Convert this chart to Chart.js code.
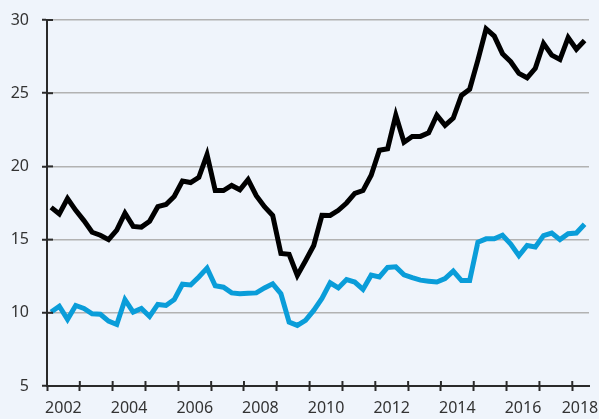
<!DOCTYPE html>
<html><head><meta charset="utf-8">
<script src="https://cdn.jsdelivr.net/npm/chart.js@4"></script>
<style>html,body{margin:0;padding:0;background:#eff4fb;}canvas{display:block}</style>
</head><body>
<canvas id="c" width="599" height="419"></canvas>
<script>
// Quarterly series, first observation 2002 Q1, last 2018 Q2
const startYear = 2002;
const seriesBlack = [
  17.2, 16.75, 17.8, 17.0, 16.3, 15.5, 15.3, 15.0, 15.65, 16.8,
  15.9, 15.85, 16.25, 17.25, 17.4, 17.95, 19.0, 18.9, 19.25, 20.8,
  18.35, 18.35, 18.7, 18.4, 19.1, 18.0, 17.25, 16.65, 14.05, 14.0,
  12.55, 13.55, 14.6, 16.66, 16.65, 17.0, 17.5, 18.15, 18.35, 19.4,
  21.1, 21.2, 23.5, 21.65, 22.05, 22.05, 22.3, 23.5, 22.8, 23.3,
  24.85, 25.27, 27.26, 29.4, 28.9, 27.7, 27.15, 26.35, 26.05, 26.7,
  28.4, 27.6, 27.3, 28.8, 28.0, 28.6
];
const seriesBlue = [
  10.05, 10.45, 9.55, 10.5, 10.3, 9.93, 9.9, 9.43, 9.2, 10.9,
  10.05, 10.3, 9.75, 10.57, 10.5, 10.9, 11.95, 11.9, 12.45, 13.05,
  11.85, 11.75, 11.36, 11.3, 11.34, 11.36, 11.7, 11.98, 11.3, 9.36,
  9.14, 9.48, 10.16, 10.98, 12.05, 11.7, 12.27, 12.1, 11.6, 12.57,
  12.45, 13.1, 13.14, 12.6, 12.4, 12.23, 12.16, 12.1, 12.34, 12.85,
  12.2, 12.2, 14.82, 15.05, 15.05, 15.3, 14.7, 13.9, 14.6, 14.5,
  15.27, 15.45, 15.0, 15.4, 15.45, 16.05
];
const yTicks = [5, 10, 15, 20, 25, 30];
const xTickYears = [2002,2003,2004,2005,2006,2007,2008,2009,2010,2011,2012,2013,2014,2015,2016,2017,2018];
const xLabelYears = [2002, 2004, 2006, 2008, 2010, 2012, 2014, 2016, 2018];

const toPoints = arr => arr.map((v, i) => ({ x: startYear + (i + 0.5) / 4, y: v }));
const X_MAX = 2018.51;

const insideTicks = {
  id: 'insideTicks',
  afterDraw(chart) {
    const { ctx, chartArea, scales } = chart;
    ctx.save();
    ctx.strokeStyle = '#2a2a2a';
    ctx.lineWidth = 2;
    scales.y.ticks.forEach(t => {
      const y = scales.y.getPixelForValue(t.value);
      ctx.beginPath(); ctx.moveTo(chartArea.left, y); ctx.lineTo(chartArea.left + 6, y); ctx.stroke();
    });
    scales.x.ticks.forEach(t => {
      if (!t.isYear) return;
      const x = scales.x.getPixelForValue(t.value);
      ctx.beginPath(); ctx.moveTo(x, chartArea.bottom); ctx.lineTo(x, chartArea.bottom - 5); ctx.stroke();
    });
    ctx.restore();
  }
};

const font = { family: "'Noto Sans', 'Open Sans', sans-serif", size: 16 };

new Chart(document.getElementById('c'), {
  type: 'line',
  data: {
    datasets: [
      { data: toPoints(seriesBlack), borderColor: '#000000', borderWidth: 5, pointRadius: 0, tension: 0, fill: false },
      { data: toPoints(seriesBlue), borderColor: '#0a9dd9', borderWidth: 5, pointRadius: 0, tension: 0, fill: false }
    ]
  },
  options: {
    responsive: false,
    animation: false,
    devicePixelRatio: 1,
    layout: { padding: { top: 20, right: 10, left: 0, bottom: 0 } },
    plugins: { legend: { display: false }, tooltip: { enabled: false } },
    scales: {
      x: {
        type: 'linear', min: 2002, max: X_MAX,
        afterBuildTicks: s => {
          const t = xTickYears.map(v => ({ value: v, isYear: true, yearLabel: '' }));
          xLabelYears.forEach(y => {
            const pos = y + 0.5 <= X_MAX - 0.2 ? y + 0.5 : 2018.235;
            t.push({ value: pos, isYear: false, yearLabel: String(y) });
          });
          t.sort((a, b) => a.value - b.value);
          s.ticks = t;
        },
        ticks: {
          autoSkip: false, maxRotation: 0, minRotation: 0, padding: 8, color: '#333',
          font: font,
          callback: (v, i, ticks) => ticks[i].yearLabel
        },
        grid: {
          drawOnChartArea: false, drawTicks: true, tickLength: 5, tickWidth: 2,
          tickColor: c => (c.tick && c.tick.isYear) ? '#2a2a2a' : 'rgba(0,0,0,0)'
        },
        border: { display: true, color: '#2a2a2a', width: 2 },
        afterFit: s => { s.height = 33; s.paddingLeft = 0; s.paddingRight = 0; }
      },
      y: {
        min: 5, max: 30,
        afterBuildTicks: s => { s.ticks = yTicks.map(v => ({ value: v })); },
        ticks: { padding: 13, color: '#333', font: font },
        grid: {
          color: c => (c.tick && c.tick.value === 5) ? 'rgba(0,0,0,0)' : '#b2b2b2',
          lineWidth: 1.5, tickLength: 5, tickWidth: 2, tickColor: '#2a2a2a'
        },
        border: { display: true, color: '#2a2a2a', width: 2 },
        afterFit: s => { s.width = 47; s.paddingTop = 0; s.paddingBottom = 0; }
      }
    }
  },
  plugins: [insideTicks]
});
</script>
</body></html>
